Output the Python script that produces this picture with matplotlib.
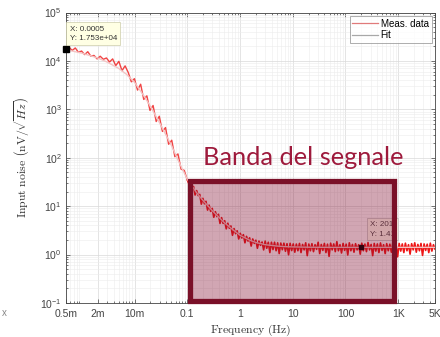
import numpy as np
import matplotlib
matplotlib.use("Agg")
import matplotlib.pyplot as plt
from matplotlib.patches import Rectangle
from matplotlib.ticker import FixedLocator, FixedFormatter, LogLocator, NullFormatter

plt.rcParams['font.family'] = ['Liberation Sans', 'DejaVu Sans']
plt.rcParams['mathtext.fontset'] = 'custom'
plt.rcParams['mathtext.rm'] = 'Liberation Sans'
plt.rcParams['mathtext.it'] = 'Liberation Sans:italic'
plt.rcParams['mathtext.bf'] = 'Liberation Sans:bold'

# ---------------- data ----------------
# measured data, low-frequency segment (log-spaced between these limits)
meas_lo_range = (5e-4, 0.1)
meas_lo = [17530, 19000, 16500, 18500, 15000, 16000, 13500, 15500, 12500, 13000,
           11000, 12500, 10800, 11500, 9500, 11000, 8000, 9800, 6300, 7900,
           5800, 3700, 4300, 2500, 3300, 1600, 1900, 950, 1200, 560,
           720, 350, 420, 190, 230, 105, 120, 58, 55, 35]
# measured data, high-frequency segment (log-spaced between these limits)
meas_hi_range = (0.1, 5000)
meas_hi = [35, 29, 32, 21.5, 25.5, 17, 21, 16.5, 17.5, 11,
           14.5, 11.2, 12.6, 8.3, 10.5, 7.8, 9.0, 5.9, 7.7, 6.1,
           6.8, 4.4, 5.8, 4.4, 5.0, 3.4, 4.45, 3.5, 3.9, 2.5,
           3.45, 2.7, 3.1, 2.1, 2.75, 2.2, 2.58, 1.75, 2.38, 1.9,
           2.22, 1.5, 2.1, 1.7, 1.98, 1.35, 1.9, 1.55, 1.82, 1.25,
           1.9, 1.35, 1.8, 1.1, 1.8, 1.27, 1.8, 1.2, 1.75, 1.05,
           1.73, 1.26, 1.72, 1.17, 1.68, 0.99, 1.71, 1.21, 1.66, 1.12,
           1.65, 1.2, 1.7, 1.1, 1.62, 1.25, 1.75, 0.95, 1.65, 1.2,
           1.68, 1.15, 1.6, 1.28, 1.8, 1.05, 1.62, 1.22, 1.7, 1.1,
           1.64, 0.92, 1.72, 1.25, 1.66, 1.15, 1.85, 1.2, 1.6, 1.08,
           1.7, 1.22, 1.64, 0.98, 1.75, 1.2, 1.62, 1.12, 1.68, 1.25,
           1.6, 1.02, 1.72, 1.2, 1.65, 1.15, 1.78, 1.25, 1.62, 0.95,
           1.7, 1.18, 1.66, 1.1, 1.74, 1.22, 1.6, 1.05, 1.68, 1.2,
           1.64, 1.12, 1.8, 1.25, 1.62, 0.9, 1.7, 1.18, 1.66, 1.1,
           1.72, 1.2, 1.6, 1.02, 1.68, 1.25, 1.75, 1.12, 1.62, 1.2,
           1.7, 0.96, 1.66, 1.22, 1.64, 1.1, 1.72, 1.18, 1.6, 1.3]

# fit curve
fit_freq = [5e-4, 1e-3, 2e-3, 3e-3, 5e-3, 7e-3, 1e-2, 1.5e-2, 2e-2, 3e-2, 5e-2, 7e-2,
            0.1, 0.15, 0.2, 0.3, 0.5, 0.7, 1, 1.5, 2, 3, 5, 7, 10, 20, 50, 100, 1000, 5000]
fit_val = [1.7e4, 1.45e4, 1.15e4, 9.5e3, 7e3, 5.3e3, 3.6e3, 1.9e3, 1.15e3, 5.2e2, 1.8e2, 80,
           36, 19, 13, 8.0, 4.6, 3.4, 2.5, 2.0, 1.78, 1.6, 1.5, 1.46, 1.44, 1.42, 1.41, 1.41, 1.41, 1.41]

# data tips
tip1 = (0.0005, 1.753e4)
tip2 = (201, 1.41)

# x tick labels
xtick_vals = [5e-4, 2e-3, 1e-2, 0.1, 1, 10, 100, 1000, 5000]
xtick_labels = ['0.5m', '2m', '10m', '0.1', '1', '10', '100', '1K', '5K']

# highlighted signal band
band_f = (0.113, 830)
band_v = (0.11, 33.6)
band_label = 'Banda del segnale'

# ---------------- figure ----------------
W, H = 440, 337
fig = plt.figure(figsize=(W / 100, H / 100), dpi=100)
ax = fig.add_axes([66 / W, 34 / H, 369 / W, 290.5 / H])
ax.set_xscale('log')
ax.set_yscale('log')
ax.set_xlim(5e-4, 5e3)
ax.set_ylim(1e-1, 1e5)

f_lo = np.geomspace(meas_lo_range[0], meas_lo_range[1], len(meas_lo))
f_hi = np.geomspace(meas_hi_range[0], meas_hi_range[1], len(meas_hi))
meas_color = '#EE1616'
l1, = ax.plot(f_lo, meas_lo, color=meas_color, lw=1.0, alpha=0.8, zorder=3)
ax.plot(f_hi, meas_hi, color=meas_color, lw=1.2, zorder=3)
l2, = ax.plot(fit_freq, fit_val, color='#F3C4C4', lw=1.0, zorder=4)

# grid & ticks
ax.grid(True, which='major', color='#d9d9d9', lw=0.5)
ax.grid(True, which='minor', color='#ececec', lw=0.4)
ax.set_axisbelow(True)
ax.xaxis.set_major_locator(FixedLocator(xtick_vals))
ax.xaxis.set_major_formatter(FixedFormatter(xtick_labels))
ax.xaxis.set_minor_locator(LogLocator(base=10, subs=np.arange(2, 10), numticks=20))
ax.xaxis.set_minor_formatter(NullFormatter())
ax.yaxis.set_major_locator(LogLocator(base=10, numticks=10))
ax.yaxis.set_minor_locator(LogLocator(base=10, subs=np.arange(2, 10), numticks=20))
ax.yaxis.set_minor_formatter(NullFormatter())
ax.tick_params(which='both', direction='in', top=True, right=True, colors='#444444',
               labelcolor='#444444', labelsize=7.5, width=0.5)
ax.tick_params(which='major', length=3)
ax.tick_params(which='minor', length=1.5)
ax.tick_params(axis='x', pad=4)
ax.tick_params(axis='y', pad=3)
for s in ax.spines.values():
    s.set_color('#444444')
    s.set_linewidth(0.6)

ax.set_ylabel(r'$\mathrm{Input\ noise}\ \left(\mathrm{nV}/\sqrt{Hz}\right)$',
              math_fontfamily='cm', fontsize=8.5, color='#333333', labelpad=6)
ax.set_xlabel(r'$\mathrm{Frequency\ (Hz)}$', math_fontfamily='cm', fontsize=8.5,
              color='#333333', labelpad=3)

leg = ax.legend([l1, l2], ['Meas. data', 'Fit'], loc='upper right', fontsize=7,
                frameon=True, fancybox=False, borderpad=0.3, handlelength=2.6,
                handletextpad=0.3, labelspacing=0.15, borderaxespad=0.35)
leg.get_frame().set_edgecolor('#888888')
leg.get_frame().set_linewidth(0.6)
for h, c in zip(leg.legend_handles, ['#E07A7A', '#A8A8A8']):
    h.set_color(c)
    h.set_alpha(1)
    h.set_linewidth(0.9)

# data tip 1
ax.plot([tip1[0]], [tip1[1]], 's', color='black', ms=4, clip_on=False, zorder=6)
ax.text(0.01, 0.955, 'X: 0.0005\nY: 1.753e+04', transform=ax.transAxes, fontsize=5.8,
        color='#333333', va='top', ha='left', linespacing=1.5, zorder=6,
        bbox=dict(boxstyle='square,pad=0.4', fc='#FFFFE4', ec='#CCCCAA', lw=0.5))
# data tip 2
ax.plot([tip2[0]], [tip2[1]], 's', color='black', ms=3.5, zorder=5)
ax.text(370 / W, 1 - 221 / H, 'X: 201\nY: 1.41', transform=fig.transFigure, fontsize=5.8,
        color='#444444', va='top', ha='left', linespacing=1.5, zorder=5,
        bbox=dict(boxstyle='square,pad=0.35', fc='#FFFFF0', ec='#BBBBBB', lw=0.5))

# signal band overlay
rect = Rectangle((band_f[0], band_v[0]), band_f[1] - band_f[0], band_v[1] - band_v[0],
                 facecolor=(130 / 255, 10 / 255, 45 / 255, 0.36), edgecolor='#7A1028',
                 lw=3.8, clip_on=False, zorder=10)
ax.add_patch(rect)
fig.text(203 / W, 1 - 165 / H, band_label, fontsize=18.3, family=['Lato', 'DejaVu Sans'],
         color='#9E1A3C', ha='left', va='baseline')

fig.text(2 / W, 1 - 313 / H, 'x', fontsize=7, color='#888888', ha='left', va='center')

fig.savefig('out.png', dpi=100)
